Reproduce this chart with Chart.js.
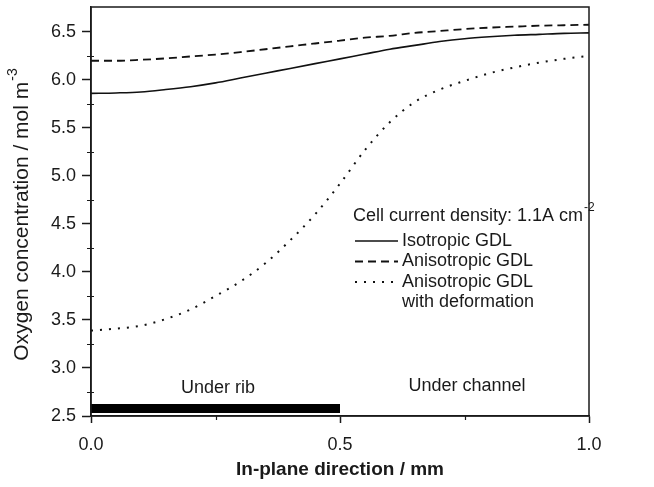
<!DOCTYPE html>
<html>
<head>
<meta charset="utf-8">
<style>
  html, body { margin: 0; padding: 0; background: #fff; }
</style>
</head>
<body>
<canvas id="o2Chart" width="654" height="487"></canvas>
<script src="https://cdn.jsdelivr.net/npm/chart.js"></script>
<script>
// positions along the in-plane direction (mm)
const xPos = [0, 0.05, 0.1, 0.15, 0.2, 0.25, 0.3, 0.35, 0.4, 0.45, 0.5,
              0.55, 0.6, 0.65, 0.7, 0.75, 0.8, 0.85, 0.9, 0.95, 1.0];
// oxygen concentration (mol m-3)
const isotropic   = [5.86, 5.865, 5.875, 5.90, 5.93, 5.97, 6.02, 6.07, 6.12, 6.17, 6.22,
                     6.27, 6.32, 6.36, 6.40, 6.43, 6.45, 6.465, 6.475, 6.485, 6.49];
const anisotropic = [6.20, 6.20, 6.21, 6.225, 6.245, 6.265, 6.29, 6.32, 6.35, 6.38, 6.41,
                     6.44, 6.46, 6.49, 6.51, 6.53, 6.545, 6.555, 6.565, 6.57, 6.575];
const deformed    = [3.39, 3.41, 3.44, 3.51, 3.61, 3.75, 3.90, 4.09, 4.33, 4.60, 4.92,
                     5.27, 5.56, 5.77, 5.90, 5.99, 6.07, 6.13, 6.18, 6.22, 6.25];
const seriesNames = ['Isotropic GDL', 'Anisotropic GDL', ['Anisotropic GDL', 'with deformation']];

// rib marker along the bottom
const ribSpan = [0, 0.5];
const ribLevel = 2.578;

const xTicks = [0, 0.25, 0.5, 0.75, 1.0];
const yTicks = [2.5, 2.75, 3.0, 3.25, 3.5, 3.75, 4.0, 4.25, 4.5, 4.75, 5.0,
                5.25, 5.5, 5.75, 6.0, 6.25, 6.5];
const yMin = 2.5, yMax = 6.76;

const legendTitle = 'Cell current density: 1.1A cm';
const legendTitleSup = '-2';
const yTitle = 'Oxygen concentration / mol m';
const yTitleSup = '-3';
const xTitle = 'In-plane direction / mm';
const regionLabels = [
  { text: 'Under rib', x: 0.255, y: 2.79 },
  { text: 'Under channel', x: 0.755, y: 2.81 }
];

const FONT = '"Liberation Sans", Arial, Helvetica, sans-serif';
const INK = '#1a1a1a';

function isMajor(v) {
  return Math.abs(v * 2 - Math.round(v * 2)) < 1e-6;
}

function pts(ys) {
  return xPos.map((x, i) => ({ x: x, y: ys[i] }));
}

function noPad(s) {
  s.paddingTop = 0;
  s.paddingBottom = 0;
  s.paddingLeft = 0;
  s.paddingRight = 0;
}

const decor = {
  id: 'decor',
  afterDraw(chart) {
    const { ctx, chartArea: a, scales: { x, y } } = chart;
    ctx.save();

    // frame round the plot
    ctx.strokeStyle = INK;
    ctx.lineWidth = 1.5;
    ctx.strokeRect(a.left, a.top, a.right - a.left, a.bottom - a.top);

    // short minor ticks
    ctx.lineWidth = 1.2;
    ctx.beginPath();
    yTicks.filter(v => !isMajor(v)).forEach(v => {
      const py = Math.round(y.getPixelForValue(v)) + 0.5;
      ctx.moveTo(a.left - 4, py);
      ctx.lineTo(a.left + 3, py);
    });
    xTicks.filter(v => !isMajor(v)).forEach(v => {
      const px = Math.round(x.getPixelForValue(v)) + 0.5;
      ctx.moveTo(px, a.bottom);
      ctx.lineTo(px, a.bottom + 4);
    });
    ctx.stroke();

    // region labels
    ctx.fillStyle = INK;
    ctx.font = '18px ' + FONT;
    ctx.textAlign = 'center';
    ctx.textBaseline = 'middle';
    regionLabels.forEach(r => {
      ctx.fillText(r.text, x.getPixelForValue(r.x), y.getPixelForValue(r.y));
    });

    // legend
    const lx = 353, ly = 216;
    ctx.textAlign = 'left';
    ctx.fillText(legendTitle, lx, ly);
    const tw = ctx.measureText(legendTitle).width;
    ctx.font = '12px ' + FONT;
    ctx.fillText(legendTitleSup, lx + tw + 1, ly - 8);
    ctx.font = '18px ' + FONT;
    let rowY = 241;
    chart.data.datasets.forEach(ds => {
      if (ds.noLegend) return;
      ctx.save();
      ctx.strokeStyle = ds.borderColor;
      ctx.lineWidth = ds.borderWidth;
      ctx.setLineDash(ds.borderDash || []);
      ctx.beginPath();
      ctx.moveTo(355, rowY);
      ctx.lineTo(398, rowY);
      ctx.stroke();
      ctx.restore();
      const lines = Array.isArray(ds.label) ? ds.label : [ds.label];
      lines.forEach((t, k) => ctx.fillText(t, 402, rowY + k * 20.5));
      rowY += 20.5 * lines.length;
    });

    // y axis title with superscript
    ctx.save();
    ctx.translate(22, (a.top + a.bottom) / 2 + 3);
    ctx.rotate(-Math.PI / 2);
    ctx.font = '21px ' + FONT;
    const mw = ctx.measureText(yTitle).width;
    ctx.font = '14px ' + FONT;
    const sw = ctx.measureText(yTitleSup).width;
    const start = -(mw + sw + 1) / 2;
    ctx.font = '21px ' + FONT;
    ctx.fillText(yTitle, start, 0);
    ctx.font = '14px ' + FONT;
    ctx.fillText(yTitleSup, start + mw + 1, -9);
    ctx.restore();

    ctx.restore();
  }
};

new Chart(document.getElementById('o2Chart'), {
  type: 'line',
  data: {
    datasets: [
      {
        label: seriesNames[0],
        data: pts(isotropic),
        borderColor: '#111',
        borderWidth: 1.6
      },
      {
        label: seriesNames[1],
        data: pts(anisotropic),
        borderColor: '#111',
        borderWidth: 1.8,
        borderDash: [8, 5]
      },
      {
        label: seriesNames[2],
        data: pts(deformed),
        borderColor: '#111',
        borderWidth: 2,
        borderDash: [2, 7]
      },
      {
        label: 'rib',
        noLegend: true,
        data: ribSpan.map(v => ({ x: v, y: ribLevel })),
        borderColor: '#000',
        borderWidth: 9,
        borderCapStyle: 'butt'
      }
    ]
  },
  options: {
    responsive: false,
    animation: false,
    layout: { padding: { top: 7, right: 65, left: 0, bottom: 0 } },
    elements: {
      point: { radius: 0 },
      line: { cubicInterpolationMode: 'monotone', fill: false }
    },
    plugins: {
      legend: { display: false },
      tooltip: { enabled: false }
    },
    scales: {
      x: {
        type: 'linear',
        min: 0,
        max: 1,
        afterBuildTicks: s => { s.ticks = xTicks.map(v => ({ value: v })); },
        afterFit: s => { s.height = 71; noPad(s); },
        grid: {
          drawOnChartArea: false,
          tickLength: 7,
          tickWidth: 1.5,
          tickColor: c => (c.tick && isMajor(c.tick.value) ? INK : 'rgba(0,0,0,0)')
        },
        border: { color: INK, width: 1.5 },
        ticks: {
          autoSkip: false,
          maxRotation: 0,
          padding: 11,
          color: INK,
          font: { family: FONT, size: 18 },
          callback: v => (isMajor(v) ? v.toFixed(1) : '')
        },
        title: {
          display: true,
          text: xTitle,
          color: INK,
          padding: { top: 0, bottom: 6 },
          font: { family: FONT, size: 19, weight: 'bold' }
        }
      },
      y: {
        type: 'linear',
        min: yMin,
        max: yMax,
        afterBuildTicks: s => { s.ticks = yTicks.map(v => ({ value: v })); },
        afterFit: s => { s.width = 91; noPad(s); },
        grid: {
          drawOnChartArea: false,
          tickLength: 9,
          tickWidth: 1.5,
          tickColor: c => (c.tick && isMajor(c.tick.value) ? INK : 'rgba(0,0,0,0)')
        },
        border: { color: INK, width: 1.5 },
        ticks: {
          autoSkip: false,
          padding: 6,
          color: INK,
          font: { family: FONT, size: 18 },
          callback: v => (isMajor(v) ? v.toFixed(1) : '')
        }
      }
    }
  },
  plugins: [decor]
});
</script>
</body>
</html>
